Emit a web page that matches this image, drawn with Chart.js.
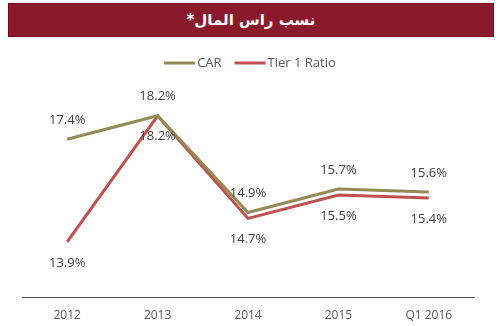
<!DOCTYPE html>
<html lang="ar">
  <head>
    <meta charset="UTF-8" />
    <title>نسب راس المال</title>
    <style>
      body { margin: 0; background: #fff; width: 500px; height: 326px; position: relative; overflow: hidden; }
      .header {
        position: absolute; left: 8px; top: 3px; width: 484px; height: 32px;
        background: #8a1a2b; border: 1px solid #7a0c1e;
        color: #fff; font: bold 15px "DejaVu Sans", sans-serif;
        display: flex; align-items: center; justify-content: center;
      }
      .chart-box { position: absolute; left: 0; top: 40px; width: 500px; height: 286px; }
    </style>
    <script src="https://cdn.jsdelivr.net/npm/chart.js"></script>
  </head>
  <body>
    <div class="header" dir="rtl">نسب راس المال*</div>
    <div class="chart-box"><canvas id="ratioChart"></canvas></div>

    <script>
      const periods = ['2012', '2013', '2014', '2015', 'Q1 2016'];
      const carValues = [17.4, 18.2, 14.9, 15.7, 15.6];
      const tier1Values = [13.9, 18.2, 14.7, 15.5, 15.4];

      const textColor = '#404040';
      const fontFamily = '"Open Sans", sans-serif';

      // value labels: CAR above its points, Tier 1 below
      const valueLabels = {
        id: 'valueLabels',
        afterDatasetsDraw(chart) {
          const ctx = chart.ctx;
          ctx.save();
          ctx.font = '13px ' + fontFamily;
          ctx.fillStyle = textColor;
          ctx.textAlign = 'center';
          ctx.textBaseline = 'middle';
          chart.data.datasets.forEach((ds, i) => {
            const meta = chart.getDatasetMeta(i);
            meta.data.forEach((pt, j) => {
              const dy = i === 0 ? -19 : 21;
              ctx.fillText(ds.data[j].toFixed(1) + '%', pt.x, pt.y + dy);
            });
          });
          ctx.restore();
        }
      };

      // compact legend: short line swatch right next to the label
      const lineLegend = {
        id: 'lineLegend',
        afterDraw(chart) {
          const ctx = chart.ctx;
          const swatch = 31, gap = 2, itemGap = 13, y = 23;
          ctx.save();
          ctx.font = '13px ' + fontFamily;
          ctx.textBaseline = 'middle';
          const items = chart.data.datasets.map(ds => ({
            text: ds.label, color: ds.borderColor, w: ctx.measureText(ds.label).width
          }));
          const total = items.reduce((s, it) => s + swatch + gap + it.w, 0) + itemGap * (items.length - 1);
          let x = chart.width / 2 - total / 2;
          items.forEach(it => {
            ctx.strokeStyle = it.color;
            ctx.lineWidth = 3;
            ctx.beginPath();
            ctx.moveTo(x, y);
            ctx.lineTo(x + swatch, y);
            ctx.stroke();
            ctx.fillStyle = '#595959';
            ctx.fillText(it.text, x + swatch + gap, y);
            x += swatch + gap + it.w + itemGap;
          });
          ctx.restore();
        }
      };

      new Chart(document.getElementById('ratioChart'), {
        type: 'line',
        data: {
          labels: periods,
          datasets: [
            {
              label: 'CAR',
              data: carValues,
              borderColor: '#948a54',
              backgroundColor: '#948a54',
              borderWidth: 3,
              pointRadius: 0,
              tension: 0
            },
            {
              label: 'Tier 1 Ratio',
              data: tier1Values,
              borderColor: '#c0504d',
              backgroundColor: '#c0504d',
              borderWidth: 3,
              pointRadius: 0,
              tension: 0
            }
          ]
        },
        options: {
          responsive: true,
          maintainAspectRatio: false,
          animation: false,
          layout: { padding: { left: 22, right: 26, top: 23, bottom: 2 } },
          plugins: {
            tooltip: { enabled: false },
            legend: { display: false }
          },
          scales: {
            x: {
              offset: true,
              grid: { display: false, tickLength: 10 },
              border: { color: '#595959', width: 1 },
              ticks: {
                color: '#595959',
                padding: 1,
                font: { family: fontFamily, size: 12 }
              }
            },
            y: {
              display: false,
              min: 12,
              max: 20
            }
          }
        },
        plugins: [valueLabels, lineLegend]
      });
    </script>
  </body>
</html>
